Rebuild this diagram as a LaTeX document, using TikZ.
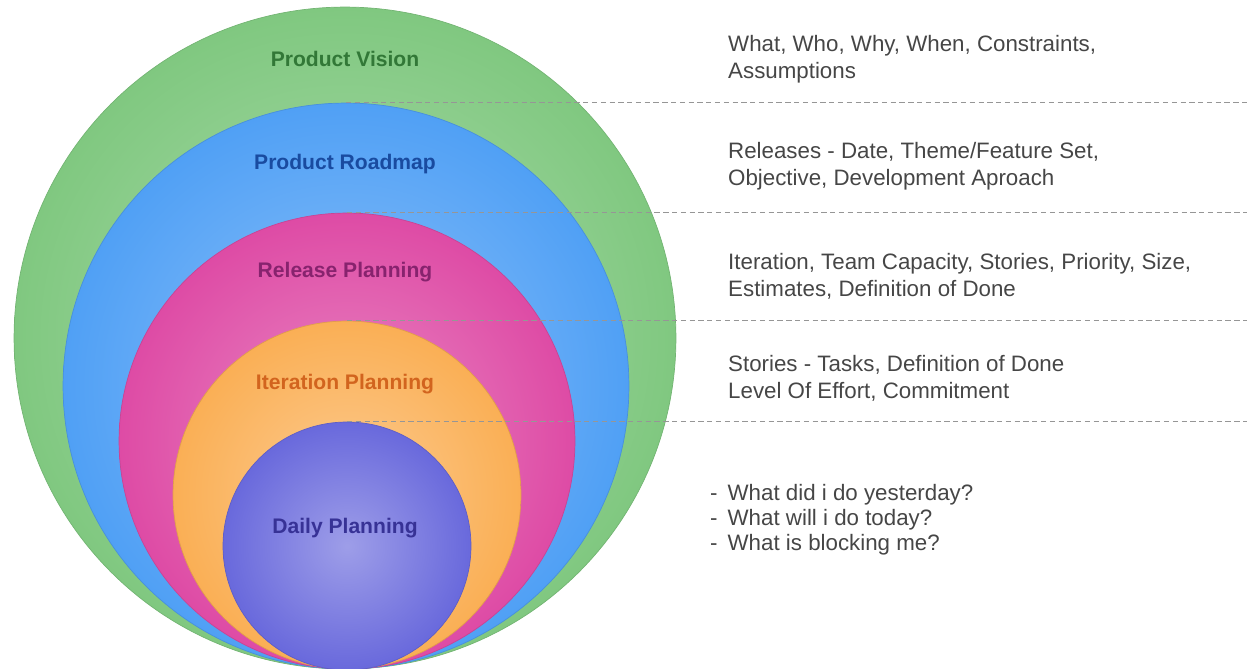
\documentclass[tikz,border=0pt]{standalone}
\usepackage{fontspec}
\setmainfont{Liberation Sans}
\usepackage{tikz}
\usetikzlibrary{positioning, calc}
\usepackage{xcolor}
\definecolor{visiongreen}{RGB}{128, 200, 128}
\definecolor{roadmapblue}{RGB}{80, 160, 245}
\definecolor{releasepink}{RGB}{222, 75, 165}
\definecolor{iterorange}{RGB}{250, 175, 85}
\definecolor{dailypurple}{RGB}{105, 105, 220}
\definecolor{visiontext}{RGB}{50, 120, 55}
\definecolor{roadmaptext}{RGB}{25, 75, 160}
\definecolor{releasetext}{RGB}{135, 35, 110}
\definecolor{itertext}{RGB}{210, 100, 30}
\definecolor{dailytext}{RGB}{55, 50, 150}
\definecolor{notegray}{RGB}{70, 70, 70}
\definecolor{linegray}{RGB}{150, 150, 150}
\tikzset{
    ring/.style={
        circle,
        inner sep=0pt,
        draw=#1!90!black,
        line width=0.4pt,
        outer color=#1,
        inner color=#1!65!white
    },
    ring label/.style={
        font=\bfseries\fontsize{12}{14}\selectfont
    },
    note/.style={
        anchor=west,
        align=left,
        text=notegray,
        font=\fontsize{12.7}{15.3}\selectfont
    },
    divider/.style={
        draw=linegray,
        line width=0.6pt,
        dash pattern=on 3pt off 2pt
    }
}
\begin{document}
\begin{tikzpicture}[x=0.02cm, y=-0.02cm]

\useasboundingbox (0, 0) rectangle (1247, 669);
\coordinate (edge) at (1247, 0);

% === CIRCLES ===
\node[ring=visiongreen, minimum size=13.24cm] (vision) at (345, 338) {};
\node[ring=roadmapblue, minimum size=11.32cm] (roadmap) at (346, 386) {};
\node[ring=releasepink, minimum size=9.12cm] (release) at (347, 441) {};
\node[ring=iterorange, minimum size=6.96cm] (iteration) at (347, 495) {};
\node[ring=dailypurple, minimum size=4.96cm] (daily) at (347, 546) {};

% === CIRCLE LABELS ===
\node[ring label, text=visiontext] (visionlabel) at (345, 59) {Product Vision};
\node[ring label, text=roadmaptext] (roadmaplabel) at (345, 164) {Product Roadmap};
\node[ring label, text=releasetext] (releaselabel) at (345, 272) {Release Planning};
\node[ring label, text=itertext] (iterationlabel) at (345, 384) {Iteration Planning};
\node[ring label, text=dailytext] (dailylabel) at (345, 528) {Daily Planning};

% === DIVIDERS ===
\draw[divider] (roadmap.north) -- (roadmap.north -| edge);
\draw[divider] (release.north) -- (release.north -| edge);
\draw[divider] (iteration.north) -- (iteration.north -| edge);
\draw[divider] (daily.north) -- (daily.north -| edge);

% === NOTES ===
\node[note] (visionnote) at (722, 59) {
    What, Who, Why, When, Constraints,\\
    Assumptions
};
\node[note] (roadmapnote) at (722, 166) {
    Releases - Date, Theme/Feature Set,\\
    Objective, Development Aproach
};
\node[note] (releasenote) at (722, 276) {
    Iteration, Team Capacity, Stories, Priority, Size,\\
    Estimates, Definition of Done
};
\node[note] (iterationnote) at (722, 378) {
    Stories - Tasks, Definition of Done\\
    Level Of Effort, Commitment
};
\node[note, font=\fontsize{12.7}{14.2}\selectfont] (dailynote) at (704, 520) {
    -\hspace{0.45em}What did i do yesterday?\\
    -\hspace{0.45em}What will i do today?\\
    -\hspace{0.45em}What is blocking me?
};

\end{tikzpicture}
\end{document}
